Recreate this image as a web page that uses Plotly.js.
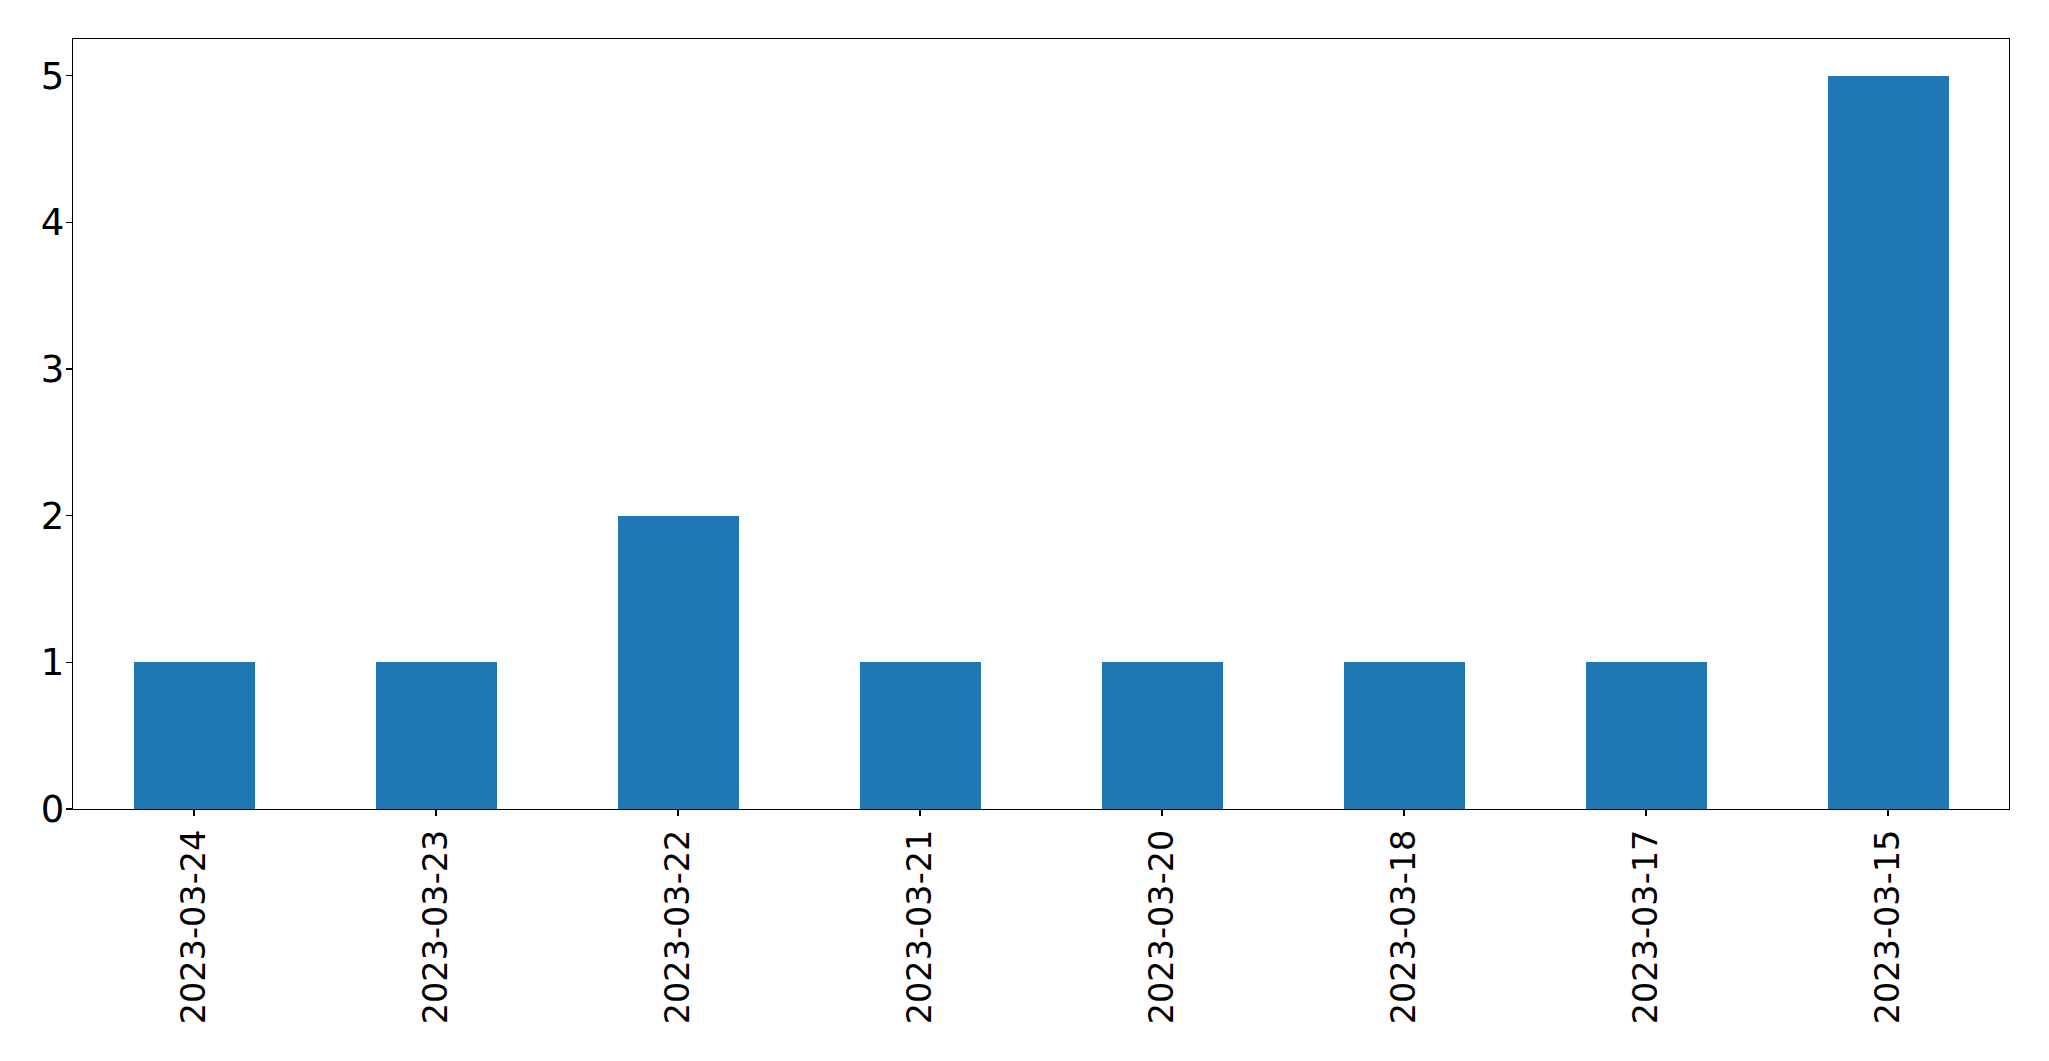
<!DOCTYPE html>
<html>
<head>
<meta charset="utf-8">
<script src="https://cdn.plot.ly/plotly-3.0.1.min.js"></script>
<style>html,body{margin:0;padding:0;background:#fff;}#chart{width:2049px;height:1061px;}</style>
</head>
<body>
<div id="chart"></div>
<script>
const dates = ["2023-03-24","2023-03-23","2023-03-22","2023-03-21","2023-03-20","2023-03-18","2023-03-17","2023-03-15"];
const counts = [1,1,2,1,1,1,1,5];
const yTicks = [0,1,2,3,4,5];

const trace = {
  type: 'bar',
  x: dates,
  y: counts,
  width: 0.5,
  marker: {color: '#1f77b4', line: {width: 0}},
  hoverinfo: 'x+y'
};

const layout = {
  width: 2049,
  height: 1061,
  margin: {l: 73, r: 40, t: 39, b: 252, pad: 0},
  paper_bgcolor: '#ffffff',
  plot_bgcolor: '#ffffff',
  showlegend: false,
  font: {family: 'DejaVu Sans', color: '#000000', size: 36},
  xaxis: {
    type: 'category',
    range: [-0.5, 7.5],
    tickangle: -90,
    ticks: 'outside',
    ticklen: 6,
    tickwidth: 1.2,
    tickcolor: '#000',
    showline: true,
    mirror: true,
    linecolor: '#000',
    linewidth: 1.2,
    showgrid: false,
    zeroline: false,
    automargin: false,
    tickfont: {family: 'DejaVu Sans', size: 33.5, color: '#000'}
  },
  yaxis: {
    range: [0, 5.25],
    tickvals: yTicks,
    ticktext: yTicks.map(String),
    ticks: 'outside',
    ticklen: 6,
    tickwidth: 1.2,
    tickcolor: '#000',
    ticklabelstandoff: -6,
    showline: true,
    mirror: true,
    linecolor: '#000',
    linewidth: 1.2,
    showgrid: false,
    zeroline: false,
    automargin: false,
    tickfont: {family: 'DejaVu Sans', size: 37, color: '#000'}
  },
  bargap: 0
};

Plotly.newPlot('chart', [trace], layout, {displayModeBar: false, staticPlot: true});
</script>
</body>
</html>
